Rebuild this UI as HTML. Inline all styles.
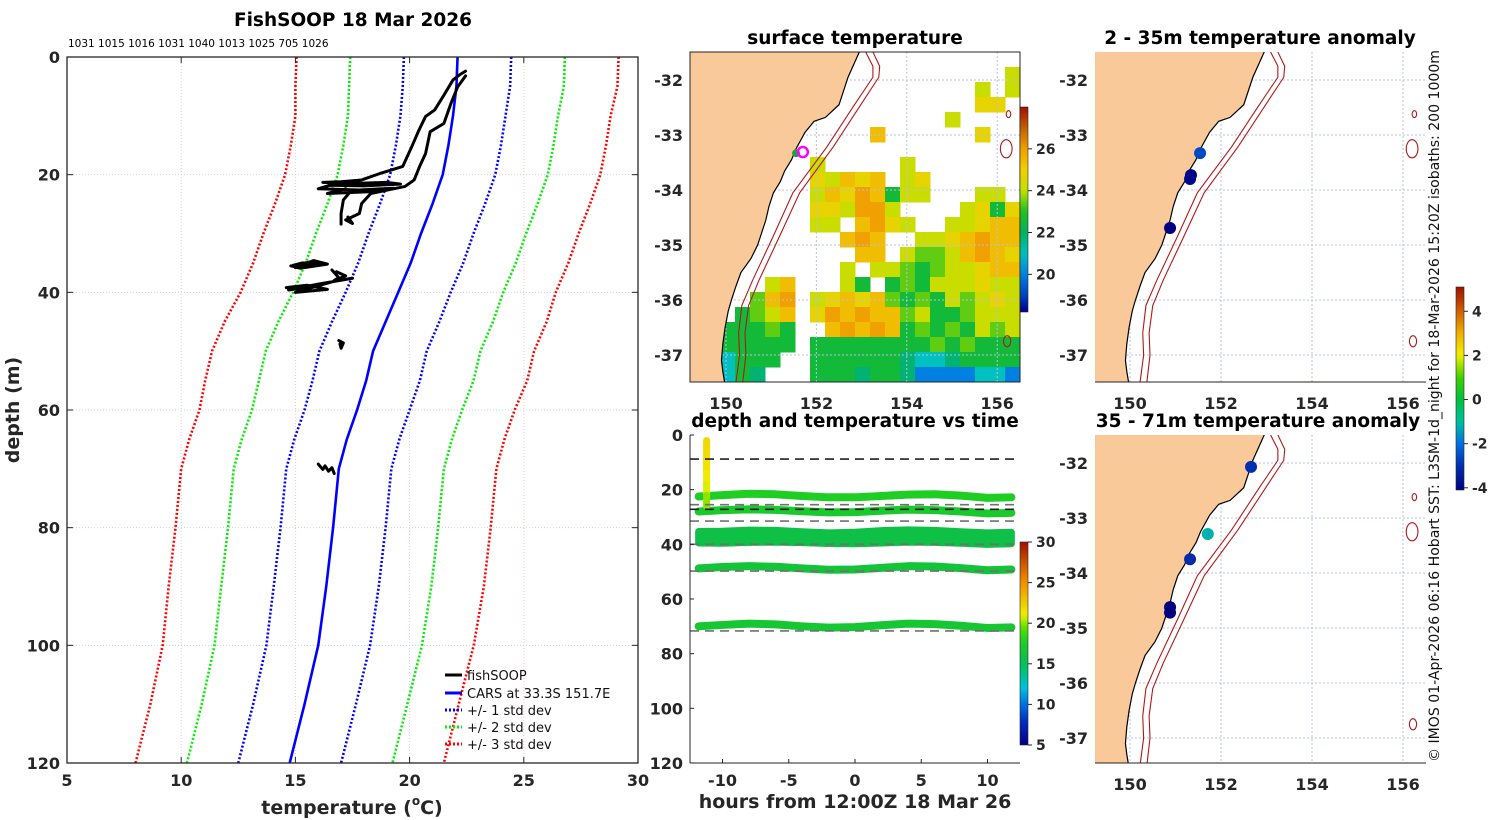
<!DOCTYPE html>
<html><head><meta charset="utf-8"><title>FishSOOP 18 Mar 2026</title>
<style>
html,body{margin:0;padding:0;background:#fff;}
svg{display:block;font-family:"DejaVu Sans","Liberation Sans",sans-serif;}
.tk{font-size:16px;font-weight:bold;fill:#262626;}
.ttl{font-size:18.5px;font-weight:bold;fill:#000;}
.cb{font-size:14px;font-weight:bold;fill:#262626;}
.ax{font-size:19px;font-weight:bold;fill:#262626;}
</style></head>
<body>
<svg id="fig" width="1500" height="820" viewBox="0 0 1500 820" xmlns="http://www.w3.org/2000/svg">
  <defs>
    <clipPath id="clipL"><rect x="67" y="57" width="571" height="706"/></clipPath>
    <clipPath id="clipM"><rect x="690" y="52" width="330" height="330"/></clipPath>
    <clipPath id="clipB"><rect x="690" y="435" width="330" height="328"/></clipPath>
    <clipPath id="clipR1"><rect x="1095" y="52" width="331" height="330"/></clipPath>
    <clipPath id="clipR2"><rect x="1095" y="435" width="331" height="328"/></clipPath>
  </defs>
  <g id="gL"></g>
  <g id="gM"></g>
  <g id="gB"></g>
  <g id="gR1"></g>
  <g id="gR2"></g>

  <text class="ttl" x="353" y="26" text-anchor="middle">FishSOOP 18 Mar 2026</text>
  <text x="68" y="47" font-size="10.5" fill="#000">1031 1015 1016 1031 1040 1013 1025 705 1026</text>
  <text class="ax" x="352" y="814" text-anchor="middle">temperature (<tspan font-size="12" dy="-9">o</tspan><tspan dy="9">C)</tspan></text>
  <text class="ax" transform="translate(19,410) rotate(-90)" text-anchor="middle">depth (m)</text>

  <text class="ttl" x="855" y="44" text-anchor="middle">surface temperature</text>
  <text class="ttl" x="855" y="427" text-anchor="middle">depth and temperature vs time</text>
  <text class="ax" x="855" y="808" text-anchor="middle">hours from 12:00Z 18 Mar 26</text>
  <text class="ttl" x="1260" y="44" text-anchor="middle">2 - 35m temperature anomaly</text>
  <text class="ttl" x="1258" y="427" text-anchor="middle">35 - 71m temperature anomaly</text>
  <text transform="translate(1439,762) rotate(-90)" font-size="14" fill="#111" textLength="712" lengthAdjust="spacingAndGlyphs">© IMOS 01-Apr-2026 06:16 Hobart SST: L3SM-1d_night for 18-Mar-2026 15:20Z isobaths: 200  1000m</text>

  <g font-size="13" fill="#111">
    <line x1="445" y1="675" x2="462" y2="675" stroke="#000" stroke-width="3"/>
    <text x="467" y="680">fishSOOP</text>
    <line x1="445" y1="693" x2="462" y2="693" stroke="#0000ff" stroke-width="3"/>
    <text x="467" y="698">CARS at 33.3S 151.7E</text>
    <line x1="445" y1="710" x2="462" y2="710" stroke="#0000ff" stroke-width="3" stroke-dasharray="2 2"/>
    <text x="467" y="715">+/- 1 std dev</text>
    <line x1="445" y1="727" x2="462" y2="727" stroke="#00ee00" stroke-width="3" stroke-dasharray="2 2"/>
    <text x="467" y="732">+/- 2 std dev</text>
    <line x1="445" y1="744" x2="462" y2="744" stroke="#ff0000" stroke-width="3" stroke-dasharray="2 2"/>
    <text x="467" y="749">+/- 3 std dev</text>
  </g>
</svg>
<script>
// ---------- data ----------
const carsDepth=[0,5,10,15,20,25,30,35,40,45,50,55,60,65,70,80,90,100,110,120];
const carsMean=[22.1,22.05,21.9,21.7,21.45,21.0,20.5,20.05,19.5,18.95,18.4,18.1,17.7,17.25,16.9,16.65,16.35,16.0,15.4,14.75];
const carsSd=[2.35,2.35,2.3,2.3,2.3,2.3,2.3,2.3,2.3,2.35,2.35,2.35,2.3,2.3,2.3,2.3,2.3,2.27,2.25,2.25];
const tempTicks=[5,10,15,20,25,30];
const depthTicks=[0,20,40,60,80,100,120];

const fishT=[[22.45,22.2,21.9,21.5,21.1,20.7,20.4,20.1,19.7,18.7,17.9,17.0,16.2,17.5,19.0,19.6,18.0,16.5,16.0,17.8,19.3,18.2,16.4,17.2],
 [22.45,22.1,21.8,21.5,20.9,20.7,20.45,20.2,19.8,18.3,17.9,17.8,17.2,17.5,17.3],
 [17.4,17.1,17.0,17.0],
 [15.7,14.9,15.3,16.2,15.0,15.8,16.4,15.2,14.8],
 [14.6,15.5,16.4,15.0,16.8,17.5,16.0,14.7,15.8,16.3,15.1],
 [16.6,16.9,16.7,17.2,16.8],
 [16.9,17.1,17.0,16.95],
 [16.0,16.2,16.3,16.45,16.6,16.7]];
const fishD=[[2.4,3.0,3.9,6.5,9,10.1,12.5,15.2,18.6,19.8,20.9,21.2,21.3,21.5,21.3,21.6,21.9,21.8,22.4,22.6,22.3,22.9,23.2,22.4],
 [3.2,5.1,8,11.3,12.7,16.4,18.5,20.9,22,23.2,24.9,26.6,27.7,28.3,27.2],
 [22.9,24.3,26.6,28.4],
 [34.8,35.4,35.0,35.2,35.8,34.6,35.2,35.9,35.5],
 [39.2,38.8,39.5,40.0,38.0,37.6,38.6,39.6,39.0,38.4,39.8],
 [36.2,37.5,38.0,37.2,36.5],
 [48.2,48.6,49.5,48.8],
 [69.2,70.1,69.5,70.4,69.8,70.8]];

const hours=[-11.8,-10,-8,-6,-4,-2,0,2,4,6,8,10,11.8];
const band1=[22.5,22,21.5,21.7,22.3,22.8,22.8,22.3,21.8,21.7,22.2,23,22.8];
const band2=[28,27.5,27.2,27.4,27.9,28.3,28.2,27.7,27.3,27.5,28.0,28.7,28.5];
const band3top=[35.3,35.2,34.8,34.9,35.4,35.8,35.6,35,34.7,34.9,35.4,35.8,35.6];
const band3bot=[39.5,39.6,39.3,39.2,39.4,39.7,39.8,39.5,39.2,39.3,39.6,40,39.8];
const band4=[48.8,48.3,48.0,48.2,48.8,49.3,49.2,48.6,48.0,48.1,48.7,49.5,49.2];
const band5=[70.0,69.5,69.0,69.3,70,70.5,70.3,69.6,69.0,69.2,69.8,70.6,70.4];
const bandTemps=[17.8,17.2,15.8,16.5,16.8];
const spikeDepth=[2,6,10,14,18,22,26];
const spikeTemp=[22.0,21.8,21.5,21.2,20.8,20.0,18.5];
const spikeHour=-11.2;
const gaugeDepths=[8.8,25.5,27.2,31.5,40,49.8,71.7];
const gaugeGray=[0,1,0,1,1,1,1];
const hourTicks=[-10,-5,0,5,10];

const lonTicks=[150,152,154,156];
const latTicks=[-32,-33,-34,-35,-36,-37];
const coastLon=[152.95,152.7,152.6,152.5,152.2,151.95,151.75,151.55,151.45,151.3,151.2,151.05,150.95,150.88,150.78,150.7,150.55,150.33,150.22,150.12,150.05,149.98,149.93,149.9,149.93,149.97];
const coastLat=[-31.49,-31.95,-32.2,-32.45,-32.68,-32.75,-32.95,-33.25,-33.45,-33.65,-33.85,-34.05,-34.3,-34.55,-34.8,-35.0,-35.25,-35.5,-35.75,-36.0,-36.2,-36.5,-36.8,-37.1,-37.3,-37.5];
const iso200Lon=[153.09,153.25,153.25,152.81,152.23,151.48,151.04,150.59,150.35,150.28,150.3,150.22];
const iso200Lat=[-31.49,-31.75,-31.95,-32.49,-33.22,-34.05,-34.85,-35.64,-36.1,-36.6,-37.0,-37.5];
const iso1000Lon=[153.25,153.4,153.38,152.95,152.37,151.63,151.18,150.73,150.5,150.42,150.44,150.37];
const mountLon=[156.25,156.2,156.22];
const mountLat=[-32.62,-33.25,-36.75];
const mountR=[0.05,0.13,0.08];

// SST grid: 22x22 cells of 15px; codes -> temps
const sstCodes=".bctgGyYoO";
const sstValues=[null,20,21,21.8,22.6,23.4,24.2,24.8,25.4,26.0];
const sstRows=[
"......................",
".....................y",
"...................y.y",
"...................YY.",
".................y....",
"............o......Y..",
"......................",
"........y.....y.......",
"........YyoYo.yY......",
"........yoYOogyy...yy.",
"........YYyOOy....yYgY",
"........yy.oOYy..yyYoo",
"..........oOo..yyYoOoo",
"...........oo.yGGyoOoY",
"..........y.yyGgGyyYoo",
".....yo...yg.gGgyyyYyy",
"....GoO.yYoYoGgGgyGyYy",
"...gGyo.YOoOooGyggGyyy",
"..gggGg..oOoOogGgGgyGy",
"..ggggg.ggggggggGgGggg",
"..cggg..ggggggtcctgggg",
"..cgt...gggtggtbbbbccb"];

const anomTopLon=[151.54,151.34,151.32,150.88];
const anomTopLat=[-33.33,-33.73,-33.8,-34.69];
const anomTopVal=[-2.6,-4.0,-3.9,-4.1];
const anomBotLon=[152.66,151.71,151.32,150.88,150.88];
const anomBotLat=[-32.07,-33.29,-33.75,-34.62,-34.72];
const anomBotVal=[-3.0,-1.2,-3.1,-4.2,-4.1];

const sstBarTicks=[20,22,24,26];
const tBarTicks=[5,10,15,20,25,30];
const anomBarTicks=[-4,-2,0,2,4];

// colormap stops
const tStopV=[5,8,10,12,14,16,18,19.5,21,23,25,27,30];
const tStopC=["#00008a","#0030c0","#0070e0","#00c0e0","#00c080","#10c040","#20d020","#60e000","#f0f000","#f0c000","#f09000","#d06000","#a01000"];
const sStopV=[18.2,19,20,21,22,23,24,25,26,27,28];
const sStopC=["#00008a","#0040c0","#0080e0","#00c0c0","#00b060","#20c020","#c0e000","#f0d000","#f0a000","#c06000","#a01000"];
const aStopV=[-4.1,-3,-2,-1,0,1,2,3,4,5.1];
const aStopC=["#000080","#0030b0","#0070e0","#00c0a0","#00c040","#40d000","#f0f000","#f0b000","#d06000","#a01000"];

// ---------- helpers ----------
const NS="http://www.w3.org/2000/svg";
function mk(tag,attrs,parent){const e=document.createElementNS(NS,tag);for(const k in attrs)e.setAttribute(k,attrs[k]);parent.appendChild(e);return e;}
function hex(h){return [parseInt(h.slice(1,3),16),parseInt(h.slice(3,5),16),parseInt(h.slice(5,7),16)];}
function cmap(v,sv,sc){if(v<=sv[0])return sc[0];if(v>=sv[sv.length-1])return sc[sc.length-1];
 for(let i=0;i<sv.length-1;i++){if(v<=sv[i+1]){const f=(v-sv[i])/(sv[i+1]-sv[i]);const a=hex(sc[i]),b=hex(sc[i+1]);
 return "rgb("+a.map((x,j)=>Math.round(x+(b[j]-x)*f)).join(",")+")";}}}
const fig=document.getElementById('fig');

// ---------- left profile ----------
const gL=document.getElementById('gL');
const lx=t=>67+(t-5)/25*571;
const ly=d=>57+d/120*706;
[10,15,20,25].forEach((t,i)=>{const g=mk('line',{x1:lx(t),x2:lx(t),y1:57,y2:763,stroke:i%2?"#f0c8c0":"#c8d0f0","stroke-width":1,"stroke-dasharray":"1 2"},gL);

});
[20,40,60,80,100].forEach(d=>{const g=mk('line',{x1:67,x2:638,y1:ly(d),y2:ly(d),stroke:"#c8d0f0","stroke-width":1,"stroke-dasharray":"1 2"},gL);

});
const lc=mk('g',{"clip-path":"url(#clipL)"},gL);
function prof(k,col,dash,name){const pts=carsDepth.map((d,i)=>lx(carsMean[i]+k*carsSd[i])+","+ly(d)).join(" ");
 const p=mk('polyline',{points:pts,fill:"none",stroke:col,"stroke-width":2.6},lc);if(dash)p.setAttribute('stroke-dasharray',"2 2");
 
 }
prof(-3,"#ff0000",1,"minus-3sd-line");prof(3,"#ff0000",1,"plus-3sd-line");
prof(-2,"#00ee00",1,"minus-2sd-line");prof(2,"#00ee00",1,"plus-2sd-line");
prof(-1,"#0000ff",1,"minus-1sd-line");prof(1,"#0000ff",1,"plus-1sd-line");
prof(0,"#0000ff",0,"cars-mean-line");
fishT.forEach((seg,s)=>{const pts=seg.map((t,i)=>lx(t)+","+ly(fishD[s][i])).join(" ");
 const p=mk('polyline',{points:pts,fill:"none",stroke:"#000","stroke-width":3,"stroke-linejoin":"round","stroke-linecap":"round"},lc);
 
 });
const box=mk('rect',{x:67,y:57,width:571,height:706,fill:"none",stroke:"#262626","stroke-width":1.3},gL);


tempTicks.forEach(t=>{mk('line',{x1:lx(t),x2:lx(t),y1:763,y2:757,stroke:"#262626"},gL);mk('line',{x1:lx(t),x2:lx(t),y1:57,y2:63,stroke:"#262626"},gL);
 const e=mk('text',{x:lx(t),y:786,"text-anchor":"middle",class:"tk"},gL);e.textContent=t;
 
 });
depthTicks.forEach(d=>{mk('line',{x1:67,x2:73,y1:ly(d),y2:ly(d),stroke:"#262626"},gL);mk('line',{x1:632,x2:638,y1:ly(d),y2:ly(d),stroke:"#262626"},gL);
 const e=mk('text',{x:60,y:ly(d)+6,"text-anchor":"end",class:"tk"},gL);e.textContent=d;
 
 });

// ---------- map helpers ----------
function drawMap(g,clip,x150,y32,kx){
 const X=lon=>x150+(lon-150)*kx, Y=lat=>y32+(-32-lat)*55;
 const c=mk('g',{"clip-path":"url("+clip+")"},g);
 return {X,Y,c};
}
function grid(M,g,x0,x1,y0,y1){lonTicks.forEach(l=>{const e=mk('line',{x1:M.X(l),x2:M.X(l),y1:y0,y2:y1,stroke:"#b8c0e4","stroke-width":1,"stroke-dasharray":"2 2"},M.c);
 
 });
 latTicks.forEach(l=>{const e=mk('line',{x1:x0,x2:x1,y1:M.Y(l),y2:M.Y(l),stroke:"#b8c0e4","stroke-width":1,"stroke-dasharray":"2 2"},M.c);
 
 });}
function land(M,x0,y0,y1){let pts=coastLon.map((l,i)=>M.X(l)+","+M.Y(coastLat[i]));
 pts.push(M.X(149.97)+","+(y1+5),(x0-5)+","+(y1+5),(x0-5)+","+(y0-5),M.X(152.95)+","+(y0-5));
 const p=mk('polygon',{points:pts.join(" "),fill:"#f9c999",stroke:"none"},M.c);
 
 
 const cl=mk('polyline',{points:coastLon.map((l,i)=>M.X(l)+","+M.Y(coastLat[i])).join(" "),fill:"none",stroke:"#000","stroke-width":1.2},M.c);
 
 }
function isob(M){[[iso200Lon,"isobath-200m"],[iso1000Lon,"isobath-1000m"]].forEach(([arr,nm])=>{
 const p=mk('polyline',{points:arr.map((l,i)=>M.X(l)+","+M.Y(iso200Lat[i])).join(" "),fill:"none",stroke:"#b01818","stroke-width":1.1},M.c);
 
 });
 mountLon.forEach((l,i)=>{const e=mk('ellipse',{cx:M.X(l),cy:M.Y(mountLat[i]),rx:mountR[i]*45,ry:mountR[i]*70,fill:"none",stroke:"#b01818","stroke-width":1.1},M.c);
 
 });}
function mapTicks(M,g,xl,yLab){lonTicks.forEach(l=>{const e=mk('text',{x:M.X(l),y:yLab,"text-anchor":"middle",class:"tk"},g);e.textContent=l;
 
 });
 latTicks.forEach(l=>{const e=mk('text',{x:xl,y:M.Y(l)+6,"text-anchor":"end",class:"tk"},g);e.textContent=l;
 
 });}
function colorbar(g,x,y0,y1,vmin,vmax,sv,sc,ticks,id,name){
 const gr=mk('linearGradient',{id:id,x1:0,y1:1,x2:0,y2:0},fig.querySelector('defs'));
 for(let i=0;i<=40;i++){const v=vmin+(vmax-vmin)*i/40;mk('stop',{offset:i/40,"stop-color":cmap(v,sv,sc)},gr);}
 const r=mk('rect',{x:x,y:y0,width:8,height:y1-y0,fill:"url(#"+id+")",stroke:"#262626","stroke-width":0.6},g);
 
 
 ticks.forEach(t=>{const yy=y1-(t-vmin)/(vmax-vmin)*(y1-y0);mk('line',{x1:x+8,x2:x+12,y1:yy,y2:yy,stroke:"#262626"},g);
  const e=mk('text',{x:x+16,y:yy+5,class:"cb"},g);e.textContent=t;
  
  });}

// ---------- SST map ----------
const gM=document.getElementById('gM');
const MM=drawMap(gM,"#clipM",726,80,45.2);
sstRows.forEach((row,r)=>{for(let c=0;c<22;c++){const k=sstCodes.indexOf(row.charAt(c));if(k<1)continue;
 const e=mk('rect',{x:690+c*15,y:52+r*15,width:15.5,height:15.5,fill:cmap(sstValues[k],sStopV,sStopC)},MM.c);
 
 }});
grid(MM,gM,690,1020,52,382);land(MM,690,52,382);isob(MM);
const gd=mk('circle',{cx:MM.X(151.55),cy:MM.Y(-33.33),r:4,fill:"#20a040"},MM.c);


const mc=mk('circle',{cx:MM.X(151.7),cy:MM.Y(-33.31),r:5,fill:"none",stroke:"#ff00ff","stroke-width":2.5},MM.c);


const mb=mk('rect',{x:690,y:52,width:330,height:330,fill:"none",stroke:"#262626","stroke-width":1},gM);


mapTicks(MM,gM,683,409);
colorbar(gM,1020,107,312,18.2,28.0,sStopV,sStopC,sstBarTicks,"gS","sst-colorbar");

// ---------- depth vs time ----------
const gB=document.getElementById('gB');
const bx=h=>855+h*13.25, by=d=>435+d*2.733;
const bc=mk('g',{"clip-path":"url(#clipB)"},gB);
function band(arr,w,t,name){const p=mk('polyline',{points:hours.map((h,i)=>bx(h)+","+by(arr[i])).join(" "),fill:"none",stroke:cmap(t,tStopV,tStopC),"stroke-width":w,"stroke-linecap":"round","stroke-linejoin":"round"},bc);
 
 }
band(band1,8,bandTemps[0],"band-22m");band(band2,8,bandTemps[1],"band-28m");
const b3=mk('polygon',{points:hours.map((h,i)=>bx(h)+","+by(band3top[i])).concat(hours.slice().reverse().map((h,i)=>bx(h)+","+by(band3bot[hours.length-1-i]))).join(" "),fill:cmap(bandTemps[2],tStopV,tStopC),stroke:cmap(bandTemps[2],tStopV,tStopC),"stroke-width":7,"stroke-linejoin":"round"},bc);


band(band4,8,bandTemps[3],"band-49m");band(band5,8,bandTemps[4],"band-70m");
for(let i=0;i<spikeDepth.length-1;i++){const e=mk('line',{x1:bx(spikeHour),x2:bx(spikeHour),y1:by(spikeDepth[i]),y2:by(spikeDepth[i+1]),stroke:cmap(spikeTemp[i],tStopV,tStopC),"stroke-width":7,"stroke-linecap":"round"},bc);
 
 }
gaugeDepths.forEach((d,i)=>{const e=mk('line',{x1:690,x2:1020,y1:by(d),y2:by(d),stroke:gaugeGray[i]?"#707070":"#202020","stroke-width":1.6,"stroke-dasharray":"9 6"},bc);
 
 });
mk('line',{x1:690,x2:690,y1:435,y2:763,stroke:"#262626"},gB);mk('line',{x1:690,x2:1020,y1:763,y2:763,stroke:"#262626"},gB);
depthTicks.forEach(d=>{mk('line',{x1:690,x2:694,y1:by(d),y2:by(d),stroke:"#262626"},gB);
 const e=mk('text',{x:683,y:by(d)+6,"text-anchor":"end",class:"tk"},gB);e.textContent=d;
 
 });
hourTicks.forEach(h=>{mk('line',{x1:bx(h),x2:bx(h),y1:763,y2:759,stroke:"#262626"},gB);
 const e=mk('text',{x:bx(h),y:786,"text-anchor":"middle",class:"tk"},gB);e.textContent=h;
 
 });
colorbar(gB,1020,542,745,5,30,tStopV,tStopC,tBarTicks,"gT","temperature-colorbar");

// ---------- anomaly maps ----------
function anomMap(gid,clip,y32,y0,y1,lons,lats,vals){
 const g=document.getElementById(gid);const M=drawMap(g,clip,1130,y32,45.5);
 grid(M,g,1095,1426,y0,y1);land(M,1095,y0,y1);isob(M);
 lons.forEach((l,i)=>{const e=mk('circle',{cx:M.X(l),cy:M.Y(lats[i]),r:6,fill:cmap(vals[i],aStopV,aStopC)},M.c);
  
  });
 mk('line',{x1:1095,x2:1426,y1:y1,y2:y1,stroke:"#262626"},g);
 mapTicks(M,g,1088,y1+27);}
anomMap('gR1',"#clipR1",80,52,382,anomTopLon,anomTopLat,anomTopVal);
anomMap('gR2',"#clipR2",463,435,763,anomBotLon,anomBotLat,anomBotVal);
colorbar(document.getElementById('gR1'),1456,287,490,-4.1,5.1,aStopV,aStopC,anomBarTicks,"gA","anomaly-colorbar");
</script>
</body></html>
